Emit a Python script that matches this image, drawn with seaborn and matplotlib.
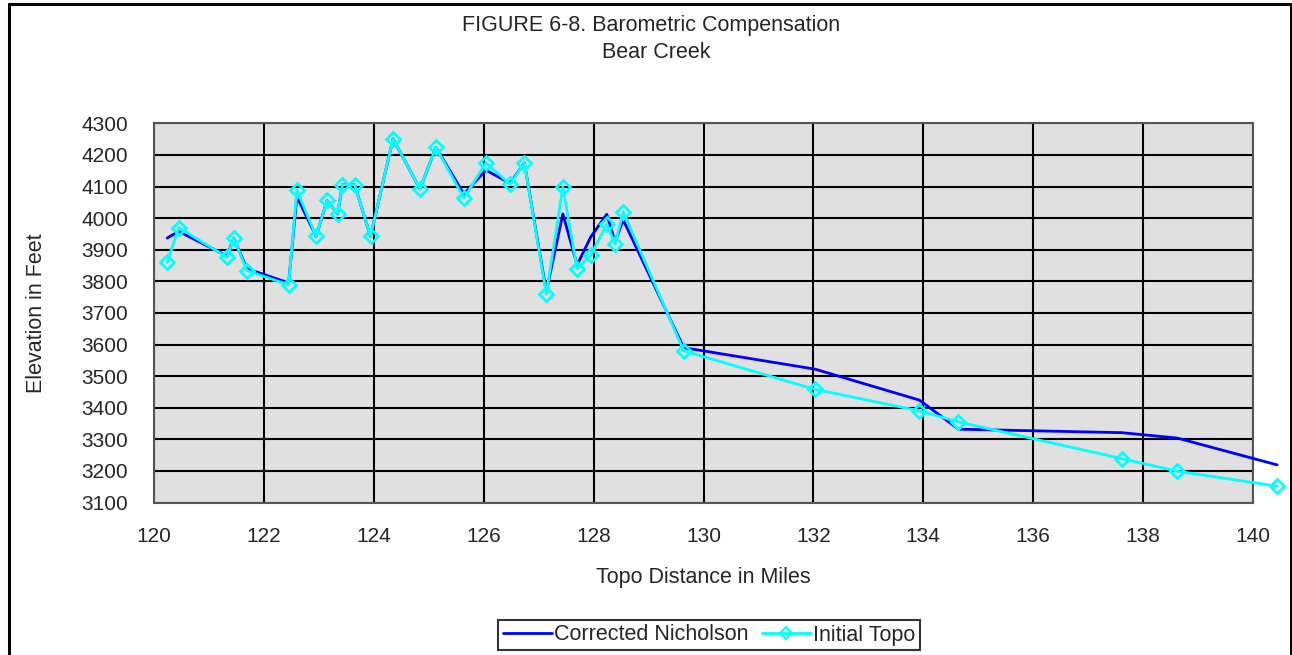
import matplotlib
matplotlib.use("Agg")
import matplotlib.pyplot as plt
import seaborn as sns
import numpy as np
from matplotlib.lines import Line2D

# ---- data ----
distance = [120.24, 120.45, 121.33, 121.45, 121.69, 122.45, 122.60, 122.95, 123.15, 123.34,
            123.43, 123.65, 123.94, 124.35, 124.84, 125.13, 125.64, 126.04, 126.48, 126.74,
            127.14, 127.44, 127.70, 127.95, 128.24, 128.39, 128.54, 129.64, 132.03, 133.93,
            134.64, 137.61, 138.62, 140.44]
corrected_nicholson = [3937, 3958, 3880, 3937, 3840, 3795, 4068, 3942, 4056, 4013,
                       4106, 4106, 3942, 4251, 4092, 4224, 4076, 4152, 4110, 4175,
                       3767, 4013, 3852, 3941, 4012, 3925, 3994, 3590, 3522, 3424,
                       3332, 3321, 3304, 3219]
initial_topo = [3860, 3970, 3876, 3937, 3834, 3789, 4089, 3942, 4056, 4013,
                4106, 4106, 3942, 4251, 4092, 4224, 4063, 4175, 4107, 4175,
                3759, 4099, 3839, 3883, 3981, 3918, 4020, 3580, 3458, 3390,
                3355, 3239, 3199, 3152]
series_names = ["Corrected Nicholson", "Initial Topo"]
x_ticks = list(range(120, 141, 2))
y_ticks = list(range(3100, 4301, 100))
title_lines = ["FIGURE 6-8. Barometric Compensation", "Bear Creek"]
x_label = "Topo Distance in Miles"
y_label = "Elevation in Feet"

# ---- style ----
sns.set_style("white")
plt.rcParams['font.family'] = ['Liberation Sans', 'DejaVu Sans']
FS = 15.5
TFS = 15

W, H = 1292, 655
fig = plt.figure(figsize=(W / 100, H / 100), dpi=100)
left, right, top, bottom = 154 / W, 1253 / W, 1 - 123.3 / H, 1 - 502.5 / H
ax = fig.add_axes([left, bottom, right - left, top - bottom])
ax.set_facecolor("#E0E0E0")

sns.lineplot(x=distance, y=corrected_nicholson, ax=ax, color="#0000FF", linewidth=2.0,
             sort=False, estimator=None, label=series_names[0], zorder=3, clip_on=False)
sns.lineplot(x=distance, y=initial_topo, ax=ax, color="#00FFFF", linewidth=2.0,
             marker="D", markersize=7, markerfacecolor="none", markeredgecolor="#00FFFF",
             markeredgewidth=2.0, sort=False, estimator=None, label=series_names[1],
             zorder=4, clip_on=False)

ax.set_xlim(120, 140)
ax.set_ylim(3100, 4300)
ax.set_xticks(x_ticks)
ax.set_yticks(y_ticks)
ax.grid(True, color="black", linewidth=1.5, zorder=1)
ax.set_axisbelow(True)
for s in ax.spines.values():
    s.set_color("#555555")
    s.set_linewidth(1.5)
ax.tick_params(axis="y", direction="out", length=5.5, width=1.5, color="black",
               labelsize=TFS, pad=13)
ax.tick_params(axis="x", length=0, labelsize=TFS, pad=18)
ax.set_xlabel("")
ax.set_ylabel("")
leg = ax.get_legend()
if leg is not None:
    leg.remove()

# titles and labels
fig.text(651 / W, 1 - 26 / H, title_lines[0], ha="center", va="center", fontsize=FS)
fig.text(656 / W, 1 - 53 / H, title_lines[1], ha="center", va="center", fontsize=FS)
fig.text(703.5 / W, 1 - 577 / H, x_label, ha="center", va="center", fontsize=FS)
fig.text(37 / W, 1 - 313 / H, y_label, ha="center", va="center", fontsize=FS, rotation=90)

# legend
handles = [Line2D([], [], color="#0000FF", linewidth=2.0),
           Line2D([], [], color="#00FFFF", linewidth=2.0, marker="D", markersize=6,
                  markerfacecolor="none", markeredgecolor="#00FFFF", markeredgewidth=1.5)]
lg = fig.legend(handles, series_names, loc="center", bbox_to_anchor=(709 / W, 1 - 635 / H),
                ncol=2, fontsize=FS, frameon=True, fancybox=False, edgecolor="black",
                handlelength=2.3, handletextpad=0.1, columnspacing=0.6, borderpad=0.2,
                numpoints=1, borderaxespad=0)
lg.get_frame().set_linewidth(1.5)

# figure border (left, top, right)
bx0, bx1, by0 = 8.5 / W, 1290.5 / W, 1 - 3.5 / H
fig.add_artist(Line2D([bx0, bx0], [-0.01, by0], transform=fig.transFigure, color="black", linewidth=2.2))
fig.add_artist(Line2D([bx0, bx1], [by0, by0], transform=fig.transFigure, color="black", linewidth=2.2))
fig.add_artist(Line2D([bx1, bx1], [-0.01, by0], transform=fig.transFigure, color="black", linewidth=2.2))

fig.savefig("out.png", dpi=100)
